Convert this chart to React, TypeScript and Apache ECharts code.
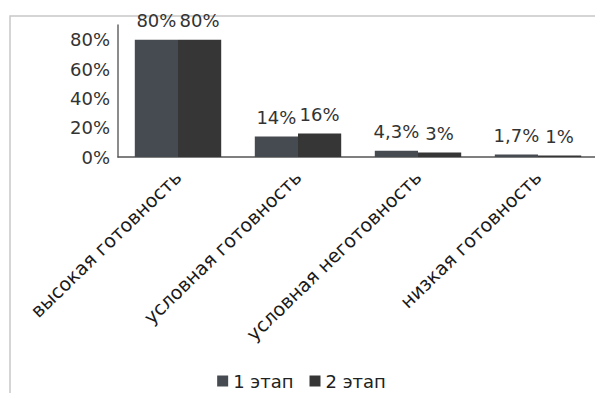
import React, { useEffect, useRef } from "react";
import * as echarts from "echarts";

const categories = [
  "высокая готовность",
  "условная готовность",
  "условная неготовность",
  "низкая готовность",
];
const seriesNames = ["1 этап", "2 этап"];
const stage1 = [80, 14, 4.3, 1.7];
const stage2 = [80, 16, 3, 1];
const yTicks = [0, 20, 40, 60, 80];

const FONT = "'DejaVu Sans', 'Open Sans', sans-serif";

export default function App() {
  const ref = useRef<HTMLDivElement>(null);
  useEffect(() => {
    if (!ref.current) return;
    const chart = echarts.init(ref.current, null, { renderer: "svg" });
    const fmt = (p: any) => String(p.value).replace(".", ",") + "%";
    chart.setOption({
      animation: false,
      backgroundColor: "#ffffff",
      textStyle: { fontFamily: FONT },
      graphic: [
        {
          type: "rect",
          shape: { x: 10, y: 16, width: 620, height: 420 },
          style: { fill: "none", stroke: "#c8c8c8", lineWidth: 1.5 },
          silent: true,
        },
      ],
      grid: { left: 118, right: 5, top: 25, bottom: 244, containLabel: false },
      legend: {
        data: seriesNames,
        bottom: 6,
        left: "center",
        itemWidth: 11,
        itemHeight: 11,
        itemGap: 16,
        icon: "rect",
        textStyle: { fontFamily: FONT, fontSize: 18, color: "#222" },
      },
      xAxis: {
        type: "category",
        data: categories,
        axisLine: { lineStyle: { color: "#555", width: 1.5 } },
        axisTick: { show: false },
        axisLabel: {
          rotate: 44,
          interval: 0,
          fontFamily: FONT,
          fontSize: 19,
          color: "#1a1a1a",
          margin: 17,
        },
      },
      yAxis: {
        type: "value",
        min: 0,
        max: 90,
        interval: 20,
        splitLine: { show: false },
        axisLine: { show: true, lineStyle: { color: "#666", width: 1.5 } },
        axisTick: { show: false },
        axisLabel: {
          showMaxLabel: false,
          fontFamily: FONT,
          fontSize: 18,
          color: "#333",
          margin: 8,
          formatter: (v: number) => (yTicks.includes(v) ? v + "%" : ""),
        },
      },
      series: [
        {
          name: seriesNames[0],
          type: "bar",
          data: stage1,
          barGap: "0%",
          barCategoryGap: "28%",
          itemStyle: { color: "#464b52" },
          label: {
            show: true,
            position: "top",
            distance: 10,
            formatter: fmt,
            fontFamily: FONT,
            fontSize: 18,
            color: "#333",
          },
        },
        {
          name: seriesNames[1],
          type: "bar",
          data: stage2,
          barGap: "0%",
          barCategoryGap: "28%",
          itemStyle: { color: "#363636" },
          label: {
            show: true,
            position: "top",
            distance: 10,
            formatter: fmt,
            fontFamily: FONT,
            fontSize: 18,
            color: "#333",
          },
        },
      ],
    });
    return () => chart.dispose();
  }, []);
  return <div ref={ref} style={{ width: 603, height: 401, margin: -8 }} />;
}
